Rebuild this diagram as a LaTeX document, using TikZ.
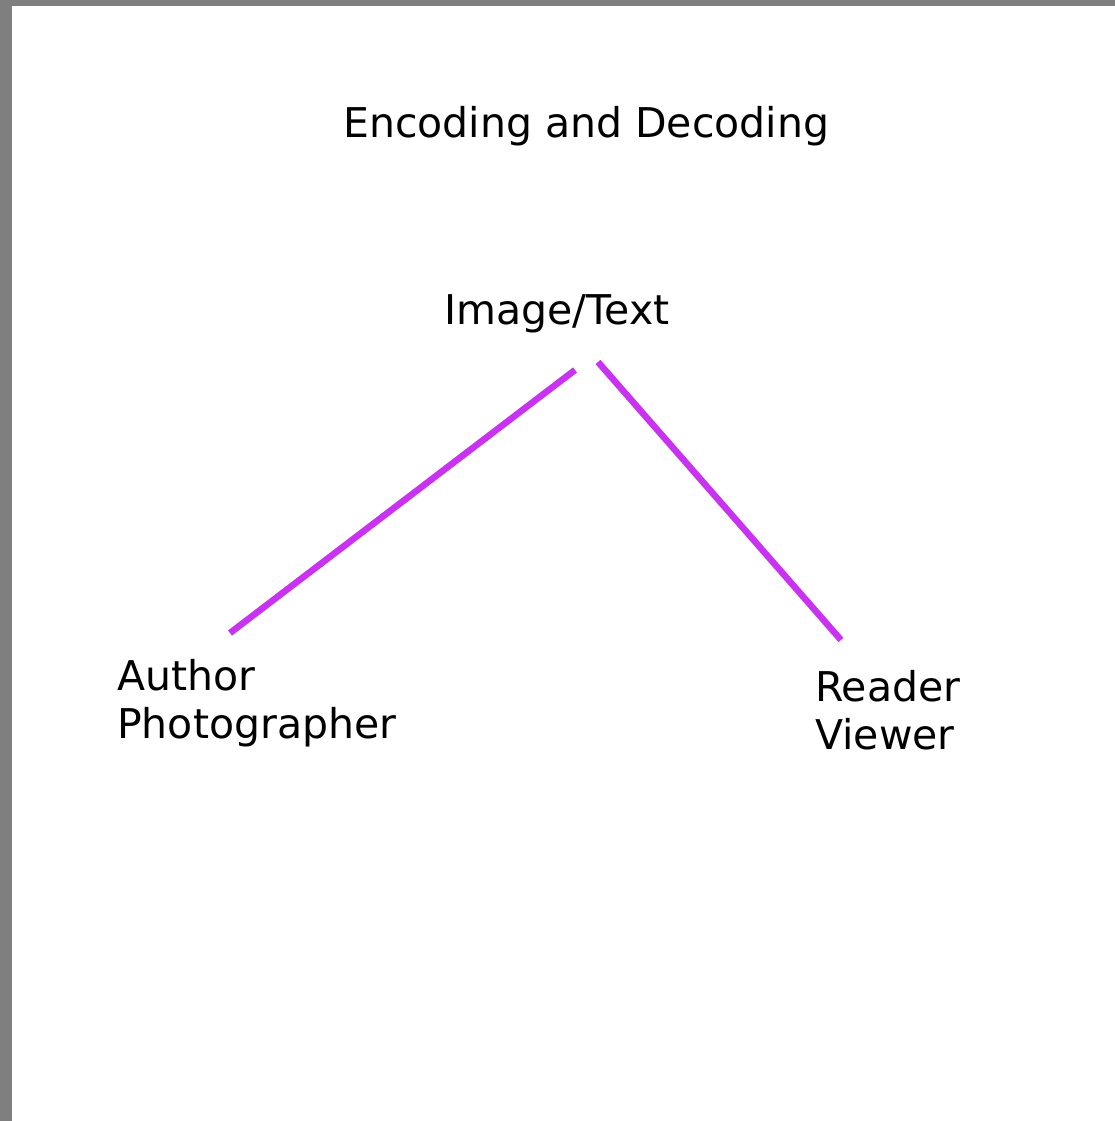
\documentclass[tikz,border=0pt]{standalone}
\usepackage{fontspec}
\setmainfont{DejaVu Sans}
\usepackage{tikz}
\usetikzlibrary{positioning}
\definecolor{linkpurple}{RGB}{200,50,240}
\definecolor{framegray}{RGB}{127,127,127}

\begin{document}
\begin{tikzpicture}[x=1pt,y=-1pt]
\tikzstyle{word}=[inner sep=0pt,anchor=base west,align=left,font=\fontsize{41}{48}\selectfont]
\tikzstyle{link}=[linkpurple,line width=6.5pt]
    \useasboundingbox (0,0) rectangle (1115,1121);
    \fill[framegray] (0,0) rectangle (1115,1121);
    \fill[white] (12,6) rectangle (1115,1121);
    \node[word] (title) at (343,137) {Encoding and Decoding};
    \node[word] (img) at (444,324) {Image/Text};
    \node[word] (author) at (117,738) {Author\\Photographer};
    \node[word] (reader) at (815,749) {Reader\\Viewer};
    \coordinate (imgL) at (575,370);
    \coordinate (imgR) at (598,362);
    \coordinate (authorT) at (230,633);
    \coordinate (readerT) at (841,640);
    \draw[link] (authorT) to (imgL);
    \draw[link] (imgR) to (readerT);
  \end{tikzpicture}
\end{document}
